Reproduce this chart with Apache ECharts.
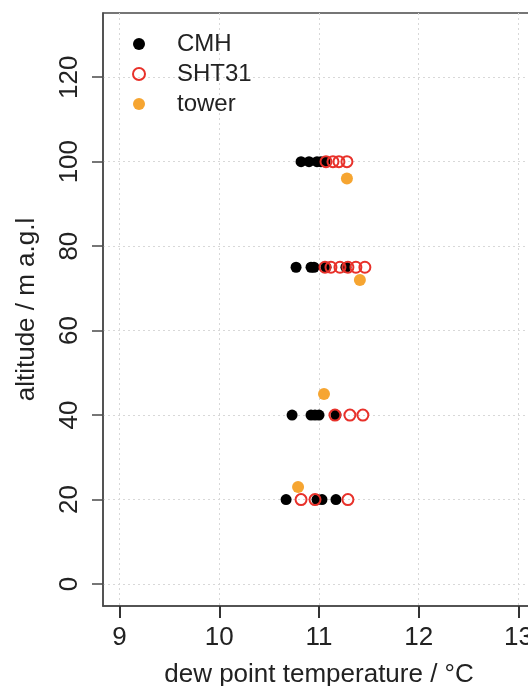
<!DOCTYPE html>
<html><head><meta charset="utf-8">
<script src="https://cdn.jsdelivr.net/npm/echarts@6/dist/echarts.min.js"></script>
<style>html,body{margin:0;padding:0;background:#fff}#c{width:528px;height:686px}</style>
</head><body><div id="c"></div>
<script>
const xTicks = [9, 10, 11, 12, 13];
const yTicks = [0, 20, 40, 60, 80, 100, 120];
const cmhTemp = [10.82, 10.90, 10.98, 11.02, 11.06, 10.77, 10.92, 10.95, 11.07, 11.27, 10.73, 10.92, 10.96, 11.00, 11.17, 10.67, 10.98, 11.03, 11.17];
const cmhAlt  = [100, 100, 100, 100, 100, 75, 75, 75, 75, 75, 40, 40, 40, 40, 40, 20, 20, 20, 20];
const shtTemp = [11.07, 11.14, 11.20, 11.28, 11.06, 11.12, 11.21, 11.29, 11.37, 11.46, 11.16, 11.31, 11.44, 10.82, 10.96, 11.29];
const shtAlt  = [100, 100, 100, 100, 75, 75, 75, 75, 75, 75, 40, 40, 40, 20, 20, 20];
const towerTemp = [11.28, 11.41, 11.05, 10.79];
const towerAlt  = [96, 72, 45, 23];

const zip = (a, b) => a.map((v, i) => [v, b[i]]);
const chart = echarts.init(document.getElementById('c'));
const font = 'Liberation Sans, Arial, sans-serif';
const axisCol = '#4a4a4a';
chart.setOption({
  animation: false,
  grid: { left: 103, top: 13, width: 432, height: 593, show: true, borderColor: axisCol, borderWidth: 1.5, backgroundColor: 'transparent', outerBoundsMode: 'none', containLabel: false },
  legend: {
    orient: 'vertical', left: 127, top: 27, itemWidth: 12, itemHeight: 12, itemGap: 6,
    textStyle: { fontFamily: font, fontSize: 24, color: '#222', padding: [0, 0, 0, 27] },
    data: ['CMH', 'SHT31', 'tower']
  },
  xAxis: {
    type: 'value', min: 8.834, max: 13.166, position: 'bottom',
    name: 'dew point temperature / °C', nameLocation: 'middle', nameGap: 56,
    nameTextStyle: { fontFamily: font, fontSize: 26, color: '#222' },
    axisLine: { show: true, onZero: false, lineStyle: { color: axisCol, width: 1.5 } },
    axisTick: { show: true, inside: false, length: 12, lineStyle: { color: '#333', width: 2 }, customValues: xTicks },
    axisLabel: { fontFamily: font, fontSize: 26, color: '#222', margin: 19, customValues: xTicks },
    splitLine: { show: true, lineStyle: { color: '#d8d8d8', type: [2, 3], width: 1 } }
  },
  yAxis: {
    type: 'value', min: -5.2, max: 135.2,
    name: 'altitude / m a.g.l', nameLocation: 'middle', nameGap: 63,
    nameTextStyle: { fontFamily: font, fontSize: 26, color: '#222' },
    axisLine: { show: true, onZero: false, lineStyle: { color: axisCol, width: 1.5 } },
    axisTick: { show: true, inside: false, length: 11, lineStyle: { color: axisCol, width: 1.5 }, customValues: yTicks },
    axisLabel: { fontFamily: font, fontSize: 26, color: '#222', margin: 20, rotate: 90, customValues: yTicks },
    splitLine: { show: true, lineStyle: { color: '#d8d8d8', type: [2, 3], width: 1 } }
  },
  series: [
    { name: 'CMH', type: 'scatter', symbol: 'circle', symbolSize: 11, itemStyle: { color: '#000', opacity: 1 }, data: zip(cmhTemp, cmhAlt) },
    { name: 'SHT31', type: 'scatter', symbol: 'circle', symbolSize: 11, itemStyle: { color: 'rgba(255,255,255,0)', borderColor: '#e8312a', borderWidth: 2, opacity: 1 }, data: zip(shtTemp, shtAlt) },
    { name: 'tower', type: 'scatter', symbol: 'circle', symbolSize: 12, itemStyle: { color: '#f6a531', opacity: 1 }, data: zip(towerTemp, towerAlt) }
  ]
});
</script></body></html>
